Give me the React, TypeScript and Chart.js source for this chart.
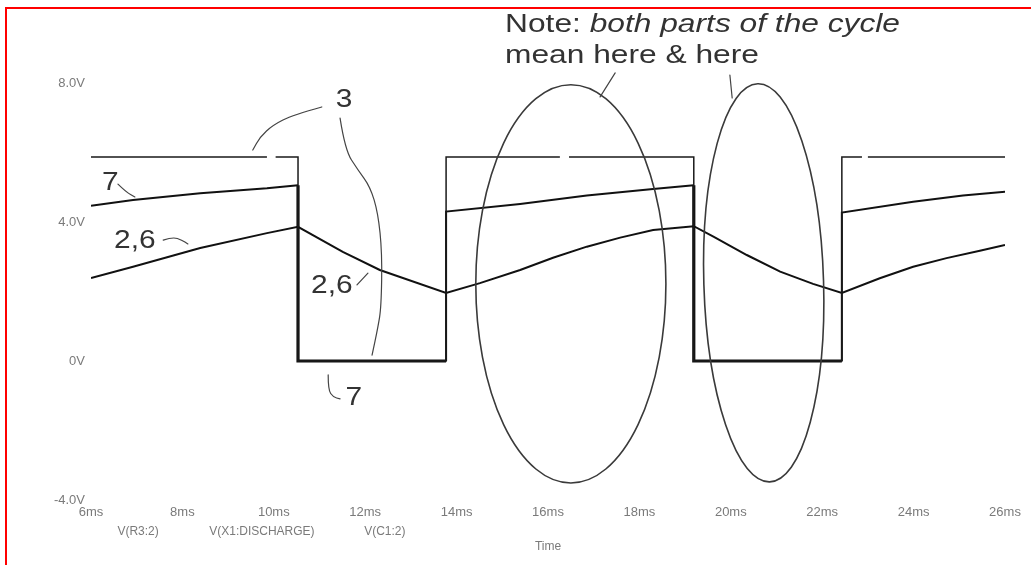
import React, { useEffect, useRef } from "react";
import { Chart, registerables } from "chart.js";

Chart.register(...registerables);

// ---- data (time in ms, voltage in V); null = gap in the trace ----
const timeR3 = [6, 9.85, 9.95, 10.04, 10.53, 10.53, 13.77, 13.77, 16.26, 16.36, 16.46, 19.19, 19.19, 22.43, 22.43, 22.87, 22.93, 23.0, 26];
const voltR3 = [5.87, 5.87, null, 5.87, 5.87, 0, 0, 5.87, 5.87, null, 5.87, 5.87, 0, 0, 5.87, 5.87, null, 5.87, 5.87];

const timeX1 = [6, 6.92, 8.39, 9.85, 10.53, 10.53, 13.77, 13.77, 15.39, 16.85, 18.3, 19.19, 19.19, 22.43, 22.43, 23.99, 25.08, 26];
const voltX1 = [4.47, 4.63, 4.83, 4.97, 5.06, 0, 0, 4.3, 4.52, 4.76, 4.95, 5.06, 0, 0, 4.27, 4.58, 4.76, 4.87];

const timeC1 = [6, 6.92, 8.39, 9.85, 10.53, 11.51, 12.32, 13.77, 14.51, 15.39, 16.11, 16.85, 17.58, 18.3, 19.19, 19.62, 20.35, 21.08, 21.8, 22.43, 23.26, 23.99, 24.72, 25.45, 26];
const voltC1 = [2.39, 2.71, 3.25, 3.68, 3.86, 3.14, 2.62, 1.96, 2.24, 2.62, 2.97, 3.29, 3.55, 3.77, 3.88, 3.58, 3.05, 2.57, 2.22, 1.96, 2.38, 2.71, 2.96, 3.17, 3.34];

const seriesNames = ["V(R3:2)", "V(X1:DISCHARGE)", "V(C1:2)"];
const seriesNameTimes = [7.03, 9.74, 12.43];

const xTicks = [6, 8, 10, 12, 14, 16, 18, 20, 22, 24, 26];
const xTickLabels = ["6ms", "8ms", "10ms", "12ms", "14ms", "16ms", "18ms", "20ms", "22ms", "24ms", "26ms"];
const yTicks = [-4, 0, 4, 8];
const yTickLabels = ["-4.0V", "0V", "4.0V", "8.0V"];
const xAxisTitle = "Time";

// annotation ellipses (data units)
const ellipseCenterT = [16.5, 20.72];
const ellipseCenterV = [2.22, 2.25];
const ellipseRadiusT = [2.08, 1.31];
const ellipseRadiusV = [5.73, 5.73];
const ellipseTilt = [0, -0.03];

// pin labels (data units)
const pinLabelText = ["3", "7", "2,6", "2,6", "7"];
const pinLabelT = [11.54, 6.42, 6.96, 11.27, 11.75];
const pinLabelV = [7.51, 5.12, 3.45, 2.16, -1.06];

// leader lines (data units)
const leaderT = [
  [11.05, 10.42, 9.98, 9.7, 9.54],
  [11.45, 11.56, 11.84, 12.11, 12.28, 12.37, 12.35, 12.28, 12.15],
  [6.59, 6.77, 6.96],
  [7.58, 7.79, 7.99, 8.12],
  [11.82, 12.06],
  [11.19, 11.19, 11.3, 11.45],
  [17.47, 17.14],
  [19.98, 20.03],
];
const leaderV = [
  [7.31, 7.08, 6.79, 6.45, 6.07],
  [6.99, 6.07, 5.5, 5.01, 4.26, 3.11, 1.55, 0.98, 0.17],
  [5.09, 4.86, 4.72],
  [3.48, 3.57, 3.48, 3.37],
  [2.19, 2.53],
  [-0.4, -0.83, -1.04, -1.09],
  [8.29, 7.6],
  [8.23, 7.57],
];

const noteLead = "Note: ";
const noteItalic = "both parts of the cycle";
const noteLine2 = "mean here & here";
const noteT = 15.06;
const noteV = [9.47, 8.58];

const toXY = (ts: number[], vs: (number | null)[]) => ts.map((t, i) => ({ x: t, y: vs[i] }));

const annotationPlugin = {
  id: "scopeAnnotations",
  afterDatasetsDraw(chart: any) {
    const { ctx, scales } = chart;
    const xs = scales.x;
    const ys = scales.y;
    const px = (t: number) => xs.getPixelForValue(t);
    const py = (v: number) => ys.getPixelForValue(v);
    ctx.save();

    // ellipses
    ctx.strokeStyle = "#3a3a3a";
    ctx.lineWidth = 1.6;
    for (let i = 0; i < ellipseCenterT.length; i++) {
      const cx = px(ellipseCenterT[i]);
      const cy = py(ellipseCenterV[i]);
      const rx = Math.abs(px(ellipseCenterT[i] + ellipseRadiusT[i]) - cx);
      const ry = Math.abs(py(ellipseCenterV[i] + ellipseRadiusV[i]) - cy);
      ctx.beginPath();
      ctx.ellipse(cx, cy, rx, ry, ellipseTilt[i], 0, Math.PI * 2);
      ctx.stroke();
    }

    // leader lines
    ctx.strokeStyle = "#444";
    ctx.lineWidth = 1.2;
    ctx.lineJoin = "round";
    ctx.lineCap = "round";
    for (let k = 0; k < leaderT.length; k++) {
      const pts = leaderT[k].map((t, i) => [px(t), py(leaderV[k][i])]);
      ctx.beginPath();
      ctx.moveTo(pts[0][0], pts[0][1]);
      if (pts.length === 2) {
        ctx.lineTo(pts[1][0], pts[1][1]);
      } else {
        for (let i = 1; i < pts.length - 1; i++) {
          const mx = (pts[i][0] + pts[i + 1][0]) / 2;
          const my = (pts[i][1] + pts[i + 1][1]) / 2;
          ctx.quadraticCurveTo(pts[i][0], pts[i][1], mx, my);
        }
        const last = pts[pts.length - 1];
        ctx.lineTo(last[0], last[1]);
      }
      ctx.stroke();
    }

    // pin labels
    ctx.fillStyle = "#333";
    ctx.textAlign = "center";
    ctx.textBaseline = "middle";
    ctx.font = "26px 'Liberation Sans', Arial, sans-serif";
    for (let i = 0; i < pinLabelText.length; i++) {
      ctx.save();
      ctx.translate(px(pinLabelT[i]), py(pinLabelV[i]));
      ctx.scale(1.15, 1);
      ctx.fillText(pinLabelText[i], 0, 0);
      ctx.restore();
    }

    // note
    ctx.textAlign = "left";
    ctx.textBaseline = "alphabetic";
    ctx.fillStyle = "#333";
    ctx.save();
    ctx.translate(px(noteT), py(noteV[0]));
    ctx.scale(1.22, 1);
    ctx.font = "26px 'Liberation Sans', Arial, sans-serif";
    ctx.fillText(noteLead, 0, 0);
    const w = ctx.measureText(noteLead).width;
    ctx.font = "italic 26px 'Liberation Sans', Arial, sans-serif";
    ctx.fillText(noteItalic, w, 0);
    ctx.restore();
    ctx.save();
    ctx.translate(px(noteT), py(noteV[1]));
    ctx.scale(1.22, 1);
    ctx.font = "26px 'Liberation Sans', Arial, sans-serif";
    ctx.fillText(noteLine2, 0, 0);
    ctx.restore();

    // series names under axis
    ctx.fillStyle = "#7a7a7a";
    ctx.font = "12px 'Liberation Sans', Arial, sans-serif";
    ctx.textAlign = "center";
    ctx.textBaseline = "middle";
    const yRow = chart.chartArea.bottom + 32;
    for (let i = 0; i < seriesNames.length; i++) {
      ctx.fillText(seriesNames[i], px(seriesNameTimes[i]), yRow);
    }
    ctx.restore();
  },
};

export default function App() {
  const canvasRef = useRef<HTMLCanvasElement | null>(null);

  useEffect(() => {
    if (!canvasRef.current) return;
    const thickLow = (ctx: any) => (ctx.p1.parsed.y === 0 ? 3.2 : 2);
    const chart = new Chart(canvasRef.current, {
      type: "line",
      data: {
        datasets: [
          {
            label: seriesNames[0],
            data: toXY(timeR3, voltR3),
            borderColor: "#1a1a1a",
            borderWidth: 1.5,
            pointRadius: 0,
            tension: 0,
            fill: false,
            spanGaps: false,
          },
          {
            label: seriesNames[1],
            data: toXY(timeX1, voltX1),
            borderColor: "#111",
            borderWidth: 2,
            pointRadius: 0,
            tension: 0,
            fill: false,
            segment: { borderWidth: thickLow },
          },
          {
            label: seriesNames[2],
            data: toXY(timeC1, voltC1),
            borderColor: "#111",
            borderWidth: 2,
            pointRadius: 0,
            tension: 0,
            fill: false,
          },
        ],
      },
      options: {
        animation: false,
        responsive: true,
        maintainAspectRatio: false,
        layout: { padding: { top: 83, right: 26, left: 0, bottom: 0 } },
        plugins: {
          legend: { display: false },
          tooltip: { enabled: false },
        },
        scales: {
          x: {
            type: "linear",
            min: 6,
            max: 26,
            grid: { display: false, drawTicks: false },
            border: { display: false },
            afterBuildTicks: (scale: any) => {
              scale.ticks = xTicks.map((v) => ({ value: v }));
            },
            afterFit: (scale: any) => {
              scale.height = 65;
            },
            ticks: {
              autoSkip: false,
              maxRotation: 0,
              padding: 5,
              color: "#7a7a7a",
              font: { family: "'Liberation Sans', Arial, sans-serif", size: 13 },
              callback: (v: any) => xTickLabels[xTicks.indexOf(Number(v))],
            },
            title: {
              display: true,
              text: xAxisTitle,
              color: "#7a7a7a",
              font: { family: "'Liberation Sans', Arial, sans-serif", size: 12 },
              padding: { top: 0, bottom: 11 },
            },
          },
          y: {
            type: "linear",
            min: -4,
            max: 8,
            grid: { display: false, drawTicks: false },
            border: { display: false },
            afterBuildTicks: (scale: any) => {
              scale.ticks = yTicks.map((v) => ({ value: v }));
            },
            afterFit: (scale: any) => {
              scale.width = 91;
            },
            ticks: {
              padding: 6,
              color: "#7a7a7a",
              font: { family: "'Liberation Sans', Arial, sans-serif", size: 13 },
              callback: (v: any) => yTickLabels[yTicks.indexOf(Number(v))],
            },
          },
        },
      },
      plugins: [annotationPlugin],
    } as any);
    return () => chart.destroy();
  }, []);

  return (
    <div style={{ position: "fixed", left: 0, top: 0, width: 1031, height: 565, background: "#fff" }}>
      <div
        style={{
          position: "absolute",
          left: 5,
          top: 7,
          width: 1026,
          height: 558,
          borderTop: "2px solid #ff0000",
          borderLeft: "2px solid #ff0000",
          boxSizing: "border-box",
          pointerEvents: "none",
        }}
      />
      <canvas ref={canvasRef} />
    </div>
  );
}
